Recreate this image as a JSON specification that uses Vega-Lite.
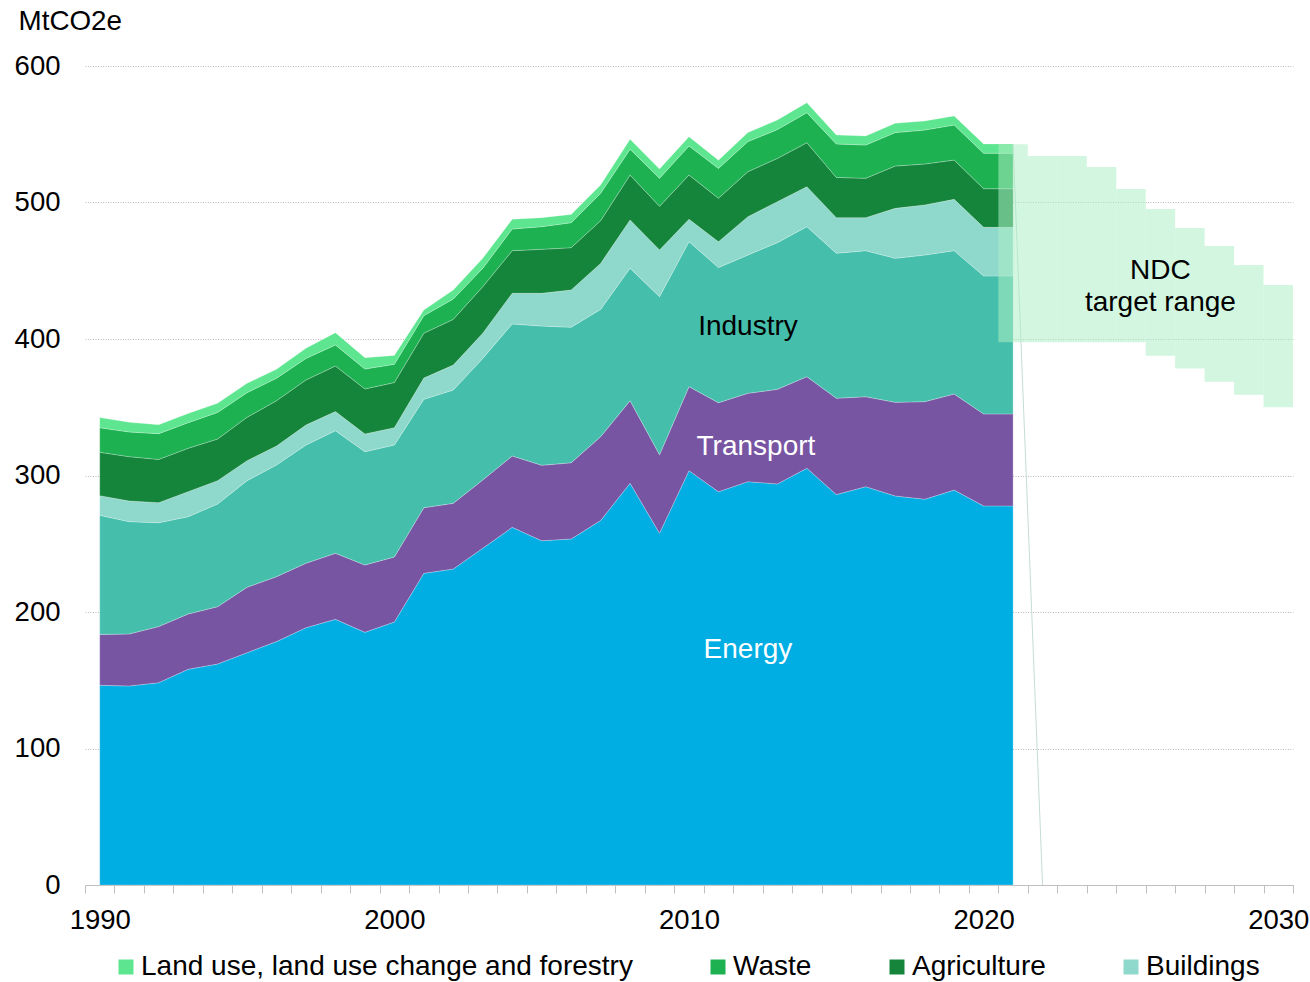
{
  "$schema": "https://vega.github.io/schema/vega-lite/v6.json",
  "width": 1208,
  "height": 819,
  "autosize": {"type": "none"},
  "padding": {"left": 85, "top": 66, "right": 17, "bottom": 97},
  "background": "white",
  "config": {
    "view": {"stroke": null},
    "font": "Liberation Sans",
    "text": {"font": "Liberation Sans"}
  },
  "layer": [
    {
      "data": {"values": [
        {"year":1990,"sector":"Energy","value":146.3},{"year":1990,"sector":"Transport","value":37.3},{"year":1990,"sector":"Industry","value":87.2},{"year":1990,"sector":"Buildings","value":14.4},{"year":1990,"sector":"Agriculture","value":31.8},{"year":1990,"sector":"Waste","value":18.0},{"year":1990,"sector":"Land use, land use change and forestry","value":7.4},
        {"year":1991,"sector":"Energy","value":145.8},{"year":1991,"sector":"Transport","value":38.1},{"year":1991,"sector":"Industry","value":82.3},{"year":1991,"sector":"Buildings","value":15.1},{"year":1991,"sector":"Agriculture","value":32.5},{"year":1991,"sector":"Waste","value":18.1},{"year":1991,"sector":"Land use, land use change and forestry","value":7.1},
        {"year":1992,"sector":"Energy","value":148.2},{"year":1992,"sector":"Transport","value":41.1},{"year":1992,"sector":"Industry","value":76.1},{"year":1992,"sector":"Buildings","value":14.7},{"year":1992,"sector":"Agriculture","value":31.7},{"year":1992,"sector":"Waste","value":18.8},{"year":1992,"sector":"Land use, land use change and forestry","value":6.6},
        {"year":1993,"sector":"Energy","value":158.0},{"year":1993,"sector":"Transport","value":40.5},{"year":1993,"sector":"Industry","value":71.3},{"year":1993,"sector":"Buildings","value":18.3},{"year":1993,"sector":"Agriculture","value":31.8},{"year":1993,"sector":"Waste","value":18.8},{"year":1993,"sector":"Land use, land use change and forestry","value":6.8},
        {"year":1994,"sector":"Energy","value":161.9},{"year":1994,"sector":"Transport","value":42.0},{"year":1994,"sector":"Industry","value":75.2},{"year":1994,"sector":"Buildings","value":17.1},{"year":1994,"sector":"Agriculture","value":30.5},{"year":1994,"sector":"Waste","value":19.5},{"year":1994,"sector":"Land use, land use change and forestry","value":6.7},
        {"year":1995,"sector":"Energy","value":170.2},{"year":1995,"sector":"Transport","value":47.9},{"year":1995,"sector":"Industry","value":78.1},{"year":1995,"sector":"Buildings","value":14.6},{"year":1995,"sector":"Agriculture","value":31.8},{"year":1995,"sector":"Waste","value":18.1},{"year":1995,"sector":"Land use, land use change and forestry","value":6.8},
        {"year":1996,"sector":"Energy","value":178.3},{"year":1996,"sector":"Transport","value":47.6},{"year":1996,"sector":"Industry","value":81.8},{"year":1996,"sector":"Buildings","value":13.9},{"year":1996,"sector":"Agriculture","value":33.2},{"year":1996,"sector":"Waste","value":16.4},{"year":1996,"sector":"Land use, land use change and forestry","value":6.6},
        {"year":1997,"sector":"Energy","value":188.5},{"year":1997,"sector":"Transport","value":47.2},{"year":1997,"sector":"Industry","value":86.6},{"year":1997,"sector":"Buildings","value":14.7},{"year":1997,"sector":"Agriculture","value":33.0},{"year":1997,"sector":"Waste","value":15.8},{"year":1997,"sector":"Land use, land use change and forestry","value":7.4},
        {"year":1998,"sector":"Energy","value":194.6},{"year":1998,"sector":"Transport","value":48.4},{"year":1998,"sector":"Industry","value":89.8},{"year":1998,"sector":"Buildings","value":14.0},{"year":1998,"sector":"Agriculture","value":33.4},{"year":1998,"sector":"Waste","value":15.4},{"year":1998,"sector":"Land use, land use change and forestry","value":9.0},
        {"year":1999,"sector":"Energy","value":185.1},{"year":1999,"sector":"Transport","value":49.3},{"year":1999,"sector":"Industry","value":83.0},{"year":1999,"sector":"Buildings","value":13.0},{"year":1999,"sector":"Agriculture","value":33.0},{"year":1999,"sector":"Waste","value":14.6},{"year":1999,"sector":"Land use, land use change and forestry","value":8.3},
        {"year":2000,"sector":"Energy","value":192.7},{"year":2000,"sector":"Transport","value":47.6},{"year":2000,"sector":"Industry","value":82.0},{"year":2000,"sector":"Buildings","value":12.7},{"year":2000,"sector":"Agriculture","value":33.1},{"year":2000,"sector":"Waste","value":13.4},{"year":2000,"sector":"Land use, land use change and forestry","value":6.5},
        {"year":2001,"sector":"Energy","value":228.3},{"year":2001,"sector":"Transport","value":48.1},{"year":2001,"sector":"Industry","value":79.4},{"year":2001,"sector":"Buildings","value":15.6},{"year":2001,"sector":"Agriculture","value":32.8},{"year":2001,"sector":"Waste","value":12.9},{"year":2001,"sector":"Land use, land use change and forestry","value":4.1},
        {"year":2002,"sector":"Energy","value":231.5},{"year":2002,"sector":"Transport","value":48.1},{"year":2002,"sector":"Industry","value":83.0},{"year":2002,"sector":"Buildings","value":18.3},{"year":2002,"sector":"Agriculture","value":33.5},{"year":2002,"sector":"Waste","value":14.9},{"year":2002,"sector":"Land use, land use change and forestry","value":6.6},
        {"year":2003,"sector":"Energy","value":246.7},{"year":2003,"sector":"Transport","value":50.0},{"year":2003,"sector":"Industry","value":89.1},{"year":2003,"sector":"Buildings","value":18.4},{"year":2003,"sector":"Agriculture","value":34.1},{"year":2003,"sector":"Waste","value":13.5},{"year":2003,"sector":"Land use, land use change and forestry","value":7.3},
        {"year":2004,"sector":"Energy","value":262.0},{"year":2004,"sector":"Transport","value":52.3},{"year":2004,"sector":"Industry","value":96.7},{"year":2004,"sector":"Buildings","value":22.5},{"year":2004,"sector":"Agriculture","value":31.2},{"year":2004,"sector":"Waste","value":15.9},{"year":2004,"sector":"Land use, land use change and forestry","value":7.1},
        {"year":2005,"sector":"Energy","value":252.2},{"year":2005,"sector":"Transport","value":55.3},{"year":2005,"sector":"Industry","value":102.0},{"year":2005,"sector":"Buildings","value":24.0},{"year":2005,"sector":"Agriculture","value":32.2},{"year":2005,"sector":"Waste","value":16.6},{"year":2005,"sector":"Land use, land use change and forestry","value":6.6},
        {"year":2006,"sector":"Energy","value":253.5},{"year":2006,"sector":"Transport","value":55.8},{"year":2006,"sector":"Industry","value":99.3},{"year":2006,"sector":"Buildings","value":27.3},{"year":2006,"sector":"Agriculture","value":31.0},{"year":2006,"sector":"Waste","value":18.3},{"year":2006,"sector":"Land use, land use change and forestry","value":6.1},
        {"year":2007,"sector":"Energy","value":267.0},{"year":2007,"sector":"Transport","value":61.4},{"year":2007,"sector":"Industry","value":93.3},{"year":2007,"sector":"Buildings","value":33.7},{"year":2007,"sector":"Agriculture","value":31.3},{"year":2007,"sector":"Waste","value":20.0},{"year":2007,"sector":"Land use, land use change and forestry","value":6.1},
        {"year":2008,"sector":"Energy","value":294.3},{"year":2008,"sector":"Transport","value":60.5},{"year":2008,"sector":"Industry","value":97.0},{"year":2008,"sector":"Buildings","value":35.4},{"year":2008,"sector":"Agriculture","value":32.9},{"year":2008,"sector":"Waste","value":18.9},{"year":2008,"sector":"Land use, land use change and forestry","value":7.3},
        {"year":2009,"sector":"Energy","value":257.7},{"year":2009,"sector":"Transport","value":57.5},{"year":2009,"sector":"Industry","value":115.8},{"year":2009,"sector":"Buildings","value":34.2},{"year":2009,"sector":"Agriculture","value":32.0},{"year":2009,"sector":"Waste","value":20.5},{"year":2009,"sector":"Land use, land use change and forestry","value":6.8},
        {"year":2010,"sector":"Energy","value":303.5},{"year":2010,"sector":"Transport","value":61.6},{"year":2010,"sector":"Industry","value":106.2},{"year":2010,"sector":"Buildings","value":16.4},{"year":2010,"sector":"Agriculture","value":32.4},{"year":2010,"sector":"Waste","value":21.3},{"year":2010,"sector":"Land use, land use change and forestry","value":6.8},
        {"year":2011,"sector":"Energy","value":288.1},{"year":2011,"sector":"Transport","value":65.2},{"year":2011,"sector":"Industry","value":99.0},{"year":2011,"sector":"Buildings","value":18.9},{"year":2011,"sector":"Agriculture","value":31.9},{"year":2011,"sector":"Waste","value":21.9},{"year":2011,"sector":"Land use, land use change and forestry","value":6.0},
        {"year":2012,"sector":"Energy","value":295.5},{"year":2012,"sector":"Transport","value":64.7},{"year":2012,"sector":"Industry","value":101.3},{"year":2012,"sector":"Buildings","value":28.1},{"year":2012,"sector":"Agriculture","value":33.0},{"year":2012,"sector":"Waste","value":22.0},{"year":2012,"sector":"Land use, land use change and forestry","value":6.6},
        {"year":2013,"sector":"Energy","value":293.8},{"year":2013,"sector":"Transport","value":69.3},{"year":2013,"sector":"Industry","value":107.5},{"year":2013,"sector":"Buildings","value":30.0},{"year":2013,"sector":"Agriculture","value":31.7},{"year":2013,"sector":"Waste","value":21.1},{"year":2013,"sector":"Land use, land use change and forestry","value":7.0},
        {"year":2014,"sector":"Energy","value":305.3},{"year":2014,"sector":"Transport","value":67.1},{"year":2014,"sector":"Industry","value":109.9},{"year":2014,"sector":"Buildings","value":29.3},{"year":2014,"sector":"Agriculture","value":32.2},{"year":2014,"sector":"Waste","value":22.0},{"year":2014,"sector":"Land use, land use change and forestry","value":7.3},
        {"year":2015,"sector":"Energy","value":286.0},{"year":2015,"sector":"Transport","value":70.6},{"year":2015,"sector":"Industry","value":106.2},{"year":2015,"sector":"Buildings","value":26.1},{"year":2015,"sector":"Agriculture","value":29.5},{"year":2015,"sector":"Waste","value":24.5},{"year":2015,"sector":"Land use, land use change and forestry","value":6.6},
        {"year":2016,"sector":"Energy","value":291.8},{"year":2016,"sector":"Transport","value":65.9},{"year":2016,"sector":"Industry","value":107.0},{"year":2016,"sector":"Buildings","value":24.2},{"year":2016,"sector":"Agriculture","value":28.8},{"year":2016,"sector":"Waste","value":24.4},{"year":2016,"sector":"Land use, land use change and forestry","value":6.6},
        {"year":2017,"sector":"Energy","value":285.0},{"year":2017,"sector":"Transport","value":68.6},{"year":2017,"sector":"Industry","value":105.5},{"year":2017,"sector":"Buildings","value":36.6},{"year":2017,"sector":"Agriculture","value":31.0},{"year":2017,"sector":"Waste","value":24.5},{"year":2017,"sector":"Land use, land use change and forestry","value":6.8},
        {"year":2018,"sector":"Energy","value":282.6},{"year":2018,"sector":"Transport","value":71.5},{"year":2018,"sector":"Industry","value":107.4},{"year":2018,"sector":"Buildings","value":36.7},{"year":2018,"sector":"Agriculture","value":30.0},{"year":2018,"sector":"Waste","value":24.9},{"year":2018,"sector":"Land use, land use change and forestry","value":6.6},
        {"year":2019,"sector":"Energy","value":289.3},{"year":2019,"sector":"Transport","value":70.4},{"year":2019,"sector":"Industry","value":105.0},{"year":2019,"sector":"Buildings","value":37.6},{"year":2019,"sector":"Agriculture","value":28.8},{"year":2019,"sector":"Waste","value":25.7},{"year":2019,"sector":"Land use, land use change and forestry","value":6.6},
        {"year":2020,"sector":"Energy","value":277.7},{"year":2020,"sector":"Transport","value":67.4},{"year":2020,"sector":"Industry","value":101.1},{"year":2020,"sector":"Buildings","value":35.6},{"year":2020,"sector":"Agriculture","value":28.3},{"year":2020,"sector":"Waste","value":26.0},{"year":2020,"sector":"Land use, land use change and forestry","value":6.8},
        {"year":2021,"sector":"Energy","value":277.7},{"year":2021,"sector":"Transport","value":67.4},{"year":2021,"sector":"Industry","value":101.1},{"year":2021,"sector":"Buildings","value":35.6},{"year":2021,"sector":"Agriculture","value":28.3},{"year":2021,"sector":"Waste","value":26.0},{"year":2021,"sector":"Land use, land use change and forestry","value":6.8}
      ]},
      "transform": [
        {"calculate": "indexof(['Energy','Transport','Industry','Buildings','Agriculture','Waste','Land use, land use change and forestry'], datum.sector)", "as": "stackOrder"}
      ],
      "mark": {"type": "area", "stroke": "white", "strokeWidth": 0.4, "strokeOpacity": 0.6},
      "encoding": {
        "x": {
          "field": "year", "type": "ordinal", "bandPosition": 0.5,
          "scale": {"type": "band", "paddingInner": 0, "paddingOuter": 0,
            "domain": [1990,1991,1992,1993,1994,1995,1996,1997,1998,1999,2000,2001,2002,2003,2004,2005,2006,2007,2008,2009,2010,2011,2012,2013,2014,2015,2016,2017,2018,2019,2020,2021,2022,2023,2024,2025,2026,2027,2028,2029,2030]},
          "axis": {
            "title": null, "tickBand": "extent", "grid": false,
            "labelExpr": "datum.value % 10 === 0 ? datum.label : ''",
            "labelAngle": 0, "labelFontSize": 27.5, "labelColor": "#000000", "labelPadding": 13,
            "domainColor": "#BFBFBF", "tickColor": "#BFBFBF", "tickSize": 8, "domainWidth": 1, "tickWidth": 1
          }
        },
        "y": {
          "field": "value", "type": "quantitative", "stack": "zero",
          "scale": {"domain": [0, 600], "nice": false, "zero": true},
          "axis": {
            "title": "MtCO2e", "titleAngle": 0, "titleAlign": "left", "titleBaseline": "middle",
            "titleX": -67, "titleY": -45, "titleFontSize": 27.8, "titleFontWeight": "normal", "titleColor": "#000000",
            "values": [0, 100, 200, 300, 400, 500, 600],
            "domain": false, "ticks": false, "labelPadding": 25, "labelFontSize": 27.5, "labelColor": "#000000",
            "grid": true, "gridColor": "#A6A6A6", "gridDash": [1, 1.5], "gridWidth": 0.8
          }
        },
        "color": {
          "field": "sector", "type": "nominal",
          "scale": {
            "domain": ["Energy", "Transport", "Industry", "Buildings", "Agriculture", "Waste", "Land use, land use change and forestry"],
            "range": ["#00AEE4", "#7855A3", "#45BFAC", "#8FD8CC", "#15853C", "#1EB152", "#5DE58F"]
          },
          "legend": {
            "values": ["Land use, land use change and forestry", "Waste", "Agriculture", "Buildings"],
            "orient": "none", "legendX": 27, "legendY": 887, "direction": "horizontal",
            "title": null, "symbolType": "square", "symbolSize": 225, "symbolStrokeWidth": 0,
            "labelFontSize": 28, "labelColor": "#000000", "labelLimit": 0, "labelOffset": 1,
            "columnPadding": 71, "padding": 0
          }
        },
        "order": {"field": "stackOrder", "type": "quantitative"}
      }
    },
    {
      "data": {"values": [
        {"year": 2021, "value": 542.6},
        {"year": 2022, "value": 0}
      ]},
      "mark": {"type": "line", "color": "#C5DCD7", "strokeWidth": 1},
      "encoding": {
        "x": {"field": "year", "type": "ordinal", "bandPosition": 0.5},
        "y": {"field": "value", "type": "quantitative"}
      }
    },
    {
      "data": {"values": [
        {"year": 2021, "low": 397.6, "high": 542.6},
        {"year": 2022, "low": 397.6, "high": 534.1},
        {"year": 2023, "low": 397.6, "high": 534.1},
        {"year": 2024, "low": 397.6, "high": 526.0},
        {"year": 2025, "low": 397.6, "high": 509.9},
        {"year": 2026, "low": 387.8, "high": 495.2},
        {"year": 2027, "low": 378.3, "high": 481.3},
        {"year": 2028, "low": 368.7, "high": 468.1},
        {"year": 2029, "low": 359.2, "high": 454.2},
        {"year": 2030, "low": 350.0, "high": 439.6}
      ]},
      "mark": {"type": "bar", "color": "#ADEFC5", "opacity": 0.55},
      "encoding": {
        "x": {"field": "year", "type": "ordinal"},
        "y": {"field": "low", "type": "quantitative"},
        "y2": {"field": "high"}
      }
    },
    {
      "data": {"values": [
        {"label": "Energy", "year": 2012, "value": 172.2}
      ]},
      "mark": {"type": "text", "color": "white", "fontSize": 28, "align": "center", "baseline": "middle"},
      "encoding": {
        "x": {"field": "year", "type": "ordinal", "bandPosition": 0.5},
        "y": {"field": "value", "type": "quantitative"},
        "text": {"field": "label"}
      }
    },
    {
      "data": {"values": [
        {"label": "Transport", "year": 2012, "value": 320.9}
      ]},
      "mark": {"type": "text", "color": "white", "fontSize": 28, "align": "center", "baseline": "middle", "dx": 8},
      "encoding": {
        "x": {"field": "year", "type": "ordinal", "bandPosition": 0.5},
        "y": {"field": "value", "type": "quantitative"},
        "text": {"field": "label"}
      }
    },
    {
      "data": {"values": [
        {"label": "Industry", "year": 2012, "value": 408.8},
        {"label": "NDC", "year": 2026, "value": 449.8},
        {"label": "target range", "year": 2026, "value": 426.4}
      ]},
      "mark": {"type": "text", "color": "black", "fontSize": 28, "align": "center", "baseline": "middle"},
      "encoding": {
        "x": {"field": "year", "type": "ordinal", "bandPosition": 0.5},
        "y": {"field": "value", "type": "quantitative"},
        "text": {"field": "label"}
      }
    }
  ]
}
